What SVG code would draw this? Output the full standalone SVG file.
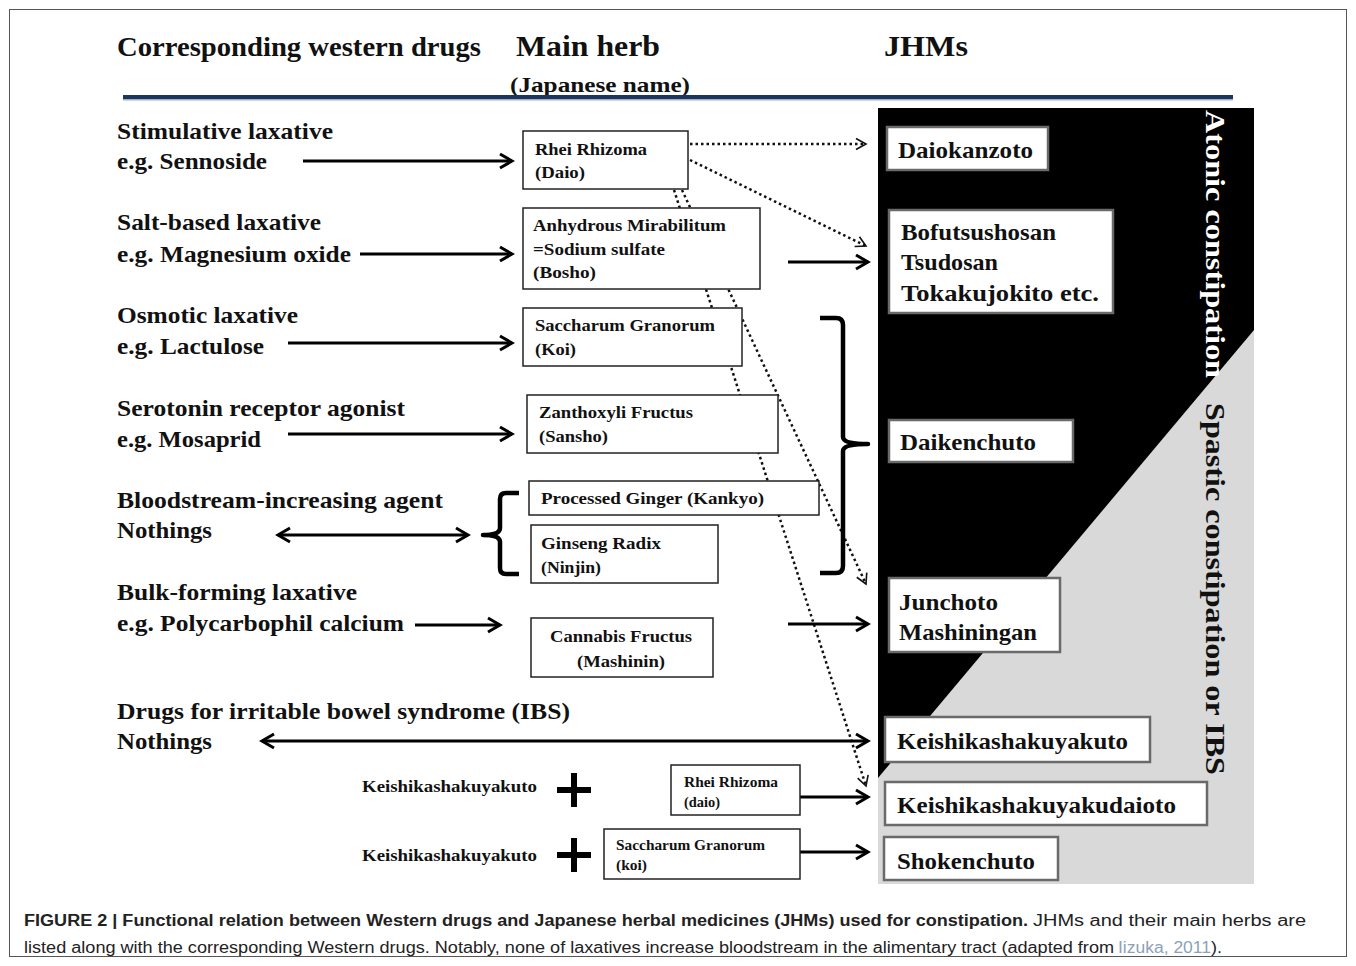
<svg xmlns="http://www.w3.org/2000/svg" width="1356" height="966" viewBox="0 0 1356 966">
<style>
.s{font-family:"Liberation Serif","Times New Roman",serif;font-weight:bold;fill:#111}
.hd{font-size:27px}
.lt{font-size:23px}
.hb{font-size:17px}
.sm{font-size:15px}
.jt{font-size:24px}
.vt{font-size:28px}
.cap{font-family:"Liberation Sans",Arial,sans-serif;font-size:16px;fill:#222}
.hbox{fill:#fff;stroke:#222;stroke-width:1.5}
.jbox{fill:#fff;stroke:#6a6a6a;stroke-width:2.5}
.sol{stroke:#000;stroke-width:3;fill:none}
.dot{stroke:#111;stroke-width:2.5;stroke-dasharray:2.5 3;fill:none}
.br{stroke:#000;stroke-width:4.5;fill:none;stroke-linejoin:round}
</style>
<defs>
<marker id="ah" markerUnits="userSpaceOnUse" markerWidth="18" markerHeight="18" refX="14" refY="9" orient="auto-start-reverse">
<path d="M2,2 L14,9 L2,16" fill="none" stroke="#000" stroke-width="3"/>
</marker>
<marker id="dh" markerUnits="userSpaceOnUse" markerWidth="14" markerHeight="14" refX="11" refY="7" orient="auto">
<path d="M1,1.5 L11,7 L1,12.5" fill="none" stroke="#111" stroke-width="1.6"/>
</marker>
</defs>
<rect width="1356" height="966" fill="#fff"/>
<rect x="9.5" y="9.5" width="1337" height="947" fill="none" stroke="#555" stroke-width="1"/>

<g id="header">
<text class="s hd" x="117" y="56" textLength="364" lengthAdjust="spacingAndGlyphs">Corresponding western drugs</text>
<text class="s" style="font-size:30px" x="516" y="56" textLength="144" lengthAdjust="spacingAndGlyphs">Main herb</text>
<text class="s" style="font-size:30px" x="884" y="56" textLength="84" lengthAdjust="spacingAndGlyphs">JHMs</text>
<text class="s" style="font-size:22px" x="510" y="92" textLength="180" lengthAdjust="spacingAndGlyphs">(Japanese name)</text>
<rect x="123" y="95" width="1110" height="4" fill="#1c355e"/>
<rect x="123" y="99" width="1110" height="1.5" fill="#9fb0c4"/>
</g>

<g id="panel">
<rect x="878" y="108" width="376" height="776" fill="#000"/>
<polygon points="1254,330 1254,884 878,884 878,778" fill="#d9d9d9"/>
<text class="s vt" transform="translate(1206,110) rotate(90)" style="fill:#fff" textLength="268" lengthAdjust="spacingAndGlyphs">Atonic constipation</text>
<text class="s vt" transform="translate(1206,403) rotate(90)" textLength="372" lengthAdjust="spacingAndGlyphs">Spastic constipation or IBS</text>
</g>

<g id="connectors">
<line class="dot" x1="690" y1="144" x2="866" y2="144" marker-end="url(#dh)"/>
<line class="dot" x1="690" y1="160" x2="866" y2="246" marker-end="url(#dh)"/>
<line class="dot" x1="682" y1="190" x2="866" y2="584" marker-end="url(#dh)"/>
<line class="dot" x1="674" y1="190" x2="866" y2="786" marker-end="url(#dh)"/>
<line class="sol" x1="303" y1="161" x2="512" y2="161" marker-end="url(#ah)"/>
<line class="sol" x1="360" y1="254" x2="512" y2="254" marker-end="url(#ah)"/>
<line class="sol" x1="288" y1="343" x2="512" y2="343" marker-end="url(#ah)"/>
<line class="sol" x1="288" y1="434" x2="512" y2="434" marker-end="url(#ah)"/>
<line class="sol" x1="278" y1="535" x2="468" y2="535" marker-start="url(#ah)" marker-end="url(#ah)"/>
<line class="sol" x1="415" y1="625" x2="500" y2="625" marker-end="url(#ah)"/>
<line class="sol" x1="262" y1="741" x2="868" y2="741" marker-start="url(#ah)" marker-end="url(#ah)"/>
<line class="sol" x1="788" y1="262" x2="868" y2="262" marker-end="url(#ah)"/>
<line class="sol" x1="788" y1="624" x2="868" y2="624" marker-end="url(#ah)"/>
<line class="sol" x1="800" y1="797" x2="868" y2="797" marker-end="url(#ah)"/>
<line class="sol" x1="800" y1="852" x2="868" y2="852" marker-end="url(#ah)"/>
<path class="br" d="M519,493 L506,493 Q500,493 500,499 L500,528 Q500,535 483,535 Q500,535 500,542 L500,568 Q500,574 506,574 L519,574"/>
<path class="br" d="M820,318 L836,318 Q843,318 843,325 L843,437 Q843,444 868,444 Q843,444 843,451 L843,566 Q843,573 836,573 L820,573"/>
</g>

<g id="drugs">
<text class="s lt" x="117" y="139" textLength="216" lengthAdjust="spacingAndGlyphs">Stimulative laxative</text>
<text class="s lt" x="117" y="169" textLength="150" lengthAdjust="spacingAndGlyphs">e.g. Sennoside</text>
<text class="s lt" x="117" y="230" textLength="204" lengthAdjust="spacingAndGlyphs">Salt-based laxative</text>
<text class="s lt" x="117" y="262" textLength="234" lengthAdjust="spacingAndGlyphs">e.g. Magnesium  oxide</text>
<text class="s lt" x="117" y="323" textLength="181" lengthAdjust="spacingAndGlyphs">Osmotic laxative</text>
<text class="s lt" x="117" y="354" textLength="147" lengthAdjust="spacingAndGlyphs">e.g. Lactulose</text>
<text class="s lt" x="117" y="416" textLength="288" lengthAdjust="spacingAndGlyphs">Serotonin receptor agonist</text>
<text class="s lt" x="117" y="447" textLength="144" lengthAdjust="spacingAndGlyphs">e.g. Mosaprid</text>
<text class="s lt" x="117" y="508" textLength="326" lengthAdjust="spacingAndGlyphs">Bloodstream-increasing  agent</text>
<text class="s lt" x="117" y="538" textLength="95" lengthAdjust="spacingAndGlyphs">Nothings</text>
<text class="s lt" x="117" y="600" textLength="240" lengthAdjust="spacingAndGlyphs">Bulk-forming laxative</text>
<text class="s lt" x="117" y="631" textLength="287" lengthAdjust="spacingAndGlyphs">e.g. Polycarbophil  calcium</text>
<text class="s lt" x="117" y="719" textLength="453" lengthAdjust="spacingAndGlyphs">Drugs for irritable  bowel syndrome (IBS)</text>
<text class="s lt" x="117" y="749" textLength="95" lengthAdjust="spacingAndGlyphs">Nothings</text>
</g>

<g id="herb-daio">
<rect class="hbox" x="523" y="131" width="165" height="58"/>
<text class="s hb" x="535" y="155" textLength="112" lengthAdjust="spacingAndGlyphs">Rhei Rhizoma</text>
<text class="s hb" x="535" y="178" textLength="50" lengthAdjust="spacingAndGlyphs">(Daio)</text>
</g>
<g id="herb-bosho">
<rect class="hbox" x="523" y="208" width="237" height="81"/>
<text class="s hb" x="533" y="231" textLength="193" lengthAdjust="spacingAndGlyphs">Anhydrous  Mirabilitum</text>
<text class="s hb" x="533" y="255" textLength="132" lengthAdjust="spacingAndGlyphs">=Sodium  sulfate</text>
<text class="s hb" x="533" y="278" textLength="63" lengthAdjust="spacingAndGlyphs">(Bosho)</text>
</g>
<g id="herb-koi">
<rect class="hbox" x="523" y="308" width="219" height="58"/>
<text class="s hb" x="535" y="331" textLength="180" lengthAdjust="spacingAndGlyphs">Saccharum  Granorum</text>
<text class="s hb" x="535" y="355" textLength="41" lengthAdjust="spacingAndGlyphs">(Koi)</text>
</g>
<g id="herb-sansho">
<rect class="hbox" x="527" y="395" width="251" height="58"/>
<text class="s hb" x="539" y="418" textLength="154" lengthAdjust="spacingAndGlyphs">Zanthoxyli  Fructus</text>
<text class="s hb" x="539" y="442" textLength="69" lengthAdjust="spacingAndGlyphs">(Sansho)</text>
</g>
<g id="herb-kankyo">
<rect class="hbox" x="529" y="481" width="290" height="34"/>
<text class="s hb" x="541" y="504" textLength="223" lengthAdjust="spacingAndGlyphs">Processed Ginger  (Kankyo)</text>
</g>
<g id="herb-ninjin">
<rect class="hbox" x="531" y="525" width="187" height="58"/>
<text class="s hb" x="541" y="549" textLength="120" lengthAdjust="spacingAndGlyphs">Ginseng Radix</text>
<text class="s hb" x="541" y="573" textLength="60" lengthAdjust="spacingAndGlyphs">(Ninjin)</text>
</g>
<g id="herb-mashinin">
<rect class="hbox" x="531" y="618" width="182" height="59"/>
<text class="s hb" x="550" y="642" textLength="142" lengthAdjust="spacingAndGlyphs">Cannabis  Fructus</text>
<text class="s hb" x="577" y="667" textLength="88" lengthAdjust="spacingAndGlyphs">(Mashinin)</text>
</g>
<g id="herb-daio2">
<rect class="hbox" x="671" y="765" width="129" height="50"/>
<text class="s sm" x="684" y="787" textLength="94" lengthAdjust="spacingAndGlyphs">Rhei Rhizoma</text>
<text class="s sm" x="684" y="807" textLength="36" lengthAdjust="spacingAndGlyphs">(daio)</text>
</g>
<g id="herb-koi2">
<rect class="hbox" x="604" y="829" width="196" height="50"/>
<text class="s sm" x="616" y="850" textLength="149" lengthAdjust="spacingAndGlyphs">Saccharum  Granorum</text>
<text class="s sm" x="616" y="870" textLength="31" lengthAdjust="spacingAndGlyphs">(koi)</text>
</g>

<g id="combo1">
<text class="s hb" x="362" y="792" textLength="175" lengthAdjust="spacingAndGlyphs">Keishikashakuyakuto</text>
<path d="M557,790 H591 M574,773 V807" stroke="#000" stroke-width="6"/>
</g>
<g id="combo2">
<text class="s hb" x="362" y="861" textLength="175" lengthAdjust="spacingAndGlyphs">Keishikashakuyakuto</text>
<path d="M557,855 H591 M574,838 V872" stroke="#000" stroke-width="6"/>
</g>

<g id="jhm-daiokanzoto">
<rect class="jbox" x="887" y="127" width="161" height="43"/>
<text class="s jt" x="898" y="158" textLength="135" lengthAdjust="spacingAndGlyphs">Daiokanzoto</text>
</g>
<g id="jhm-bofutsushosan">
<rect class="jbox" x="889" y="210" width="224" height="103"/>
<text class="s jt" x="901" y="240" textLength="155" lengthAdjust="spacingAndGlyphs">Bofutsushosan</text>
<text class="s jt" x="901" y="270" textLength="97" lengthAdjust="spacingAndGlyphs">Tsudosan</text>
<text class="s jt" x="901" y="301" textLength="198" lengthAdjust="spacingAndGlyphs">Tokakujokito   etc.</text>
</g>
<g id="jhm-daikenchuto">
<rect class="jbox" x="889" y="420" width="184" height="42"/>
<text class="s jt" x="900" y="450" textLength="136" lengthAdjust="spacingAndGlyphs">Daikenchuto</text>
</g>
<g id="jhm-junchoto">
<rect class="jbox" x="889" y="578" width="171" height="74"/>
<text class="s jt" x="899" y="610" textLength="99" lengthAdjust="spacingAndGlyphs">Junchoto</text>
<text class="s jt" x="899" y="640" textLength="138" lengthAdjust="spacingAndGlyphs">Mashiningan</text>
</g>
<g id="jhm-keishikashakuyakuto">
<rect class="jbox" x="885" y="717" width="265" height="45"/>
<text class="s jt" x="897" y="749" textLength="231" lengthAdjust="spacingAndGlyphs">Keishikashakuyakuto</text>
</g>
<g id="jhm-keishikashakuyakudaioto">
<rect class="jbox" x="885" y="782" width="322" height="43"/>
<text class="s jt" x="897" y="813" textLength="279" lengthAdjust="spacingAndGlyphs">Keishikashakuyakudaioto</text>
</g>
<g id="jhm-shokenchuto">
<rect class="jbox" x="884" y="837" width="174" height="43"/>
<text class="s jt" x="897" y="869" textLength="138" lengthAdjust="spacingAndGlyphs">Shokenchuto</text>
</g>

<g id="caption">
<text class="cap" x="24" y="926" style="font-weight:bold" textLength="1004" lengthAdjust="spacingAndGlyphs">FIGURE 2 | Functional relation between Western drugs and Japanese herbal medicines (JHMs) used for constipation.</text>
<text class="cap" x="1033" y="926" textLength="273" lengthAdjust="spacingAndGlyphs">JHMs and their main herbs are</text>
<text class="cap" x="24" y="953" textLength="1090" lengthAdjust="spacingAndGlyphs">listed along with the corresponding Western drugs. Notably, none of laxatives increase bloodstream in the alimentary tract (adapted from</text>
<text class="cap" x="1118" y="953" style="fill:#8da2b8" textLength="93" lengthAdjust="spacingAndGlyphs">Iizuka, 2011</text>
<text class="cap" x="1211" y="953" textLength="11" lengthAdjust="spacingAndGlyphs">).</text>
</g>
</svg>
